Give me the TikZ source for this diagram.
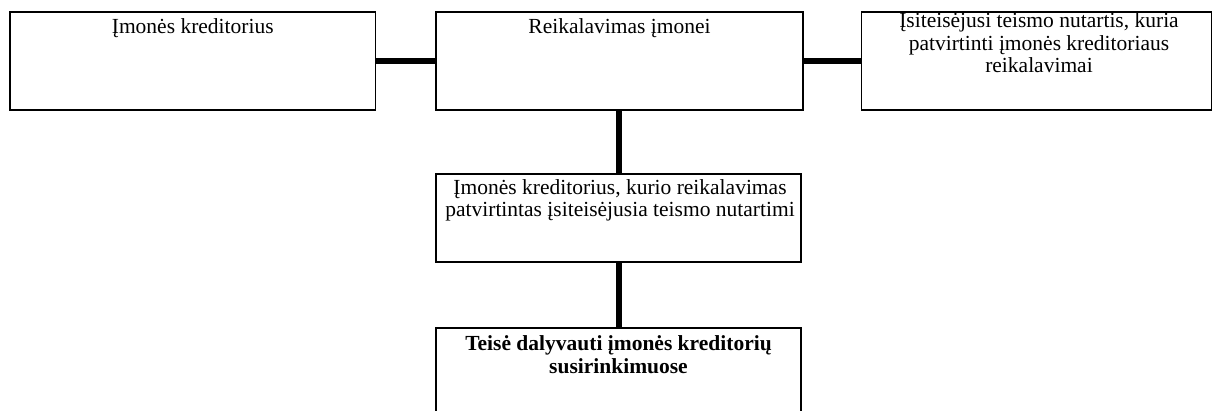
\documentclass[tikz,border=0pt]{standalone}
\usepackage{fontspec}
\setmainfont{Liberation Serif}
\begin{document}
\begin{tikzpicture}[x=1pt,y=-1pt,
  box/.style={draw,line width=1.5pt,inner sep=0pt},
  txt/.style={font=\fontsize{21.5}{22.7}\selectfont,align=center,inner sep=0pt,anchor=base},
  conn/.style={line width=6pt}]
\useasboundingbox (0,0) rectangle (1213,410);
% boxes
\node[box,minimum width=365.5pt,minimum height=98pt] (b1) at (192.75,61) {};
\node[box,minimum width=367pt,minimum height=98pt] (b2) at (619.5,61) {};
\node[box,minimum width=350pt,minimum height=98pt] (b3) at (1036.25,61) {};
\node[box,minimum width=365pt,minimum height=88pt] (b4) at (618.5,218) {};
\node[box,minimum width=365pt,minimum height=112pt] (b5) at (618.5,384) {};
% texts (anchor = baseline of last line)
\node[txt] (t1) at (192.75,33) {Įmonės kreditorius};
\node[txt] (t2) at (619.5,33) {Reikalavimas įmonei};
\node[txt] (t3) at (1039,72.7) {Įsiteisėjusi teismo nutartis, kuria\\patvirtinti įmonės kreditoriaus\\reikalavimai};
\node[txt] (t4) at (620,216.7) {Įmonės kreditorius, kurio reikalavimas\\patvirtintas įsiteisėjusia teismo nutartimi};
\node[txt,font=\fontsize{21.5}{22.7}\selectfont\bfseries] (t5) at (618.5,373) {Teisė dalyvauti įmonės kreditorių\\susirinkimuose};
% connectors
\draw[conn] (b1.east) -- (b2.west);
\draw[conn] (b2.east) -- (b3.west);
\draw[conn] (b2.south -| b4.north) -- (b4.north);
\draw[conn] (b4.south) -- (b5.north);
\end{tikzpicture}
\end{document}
